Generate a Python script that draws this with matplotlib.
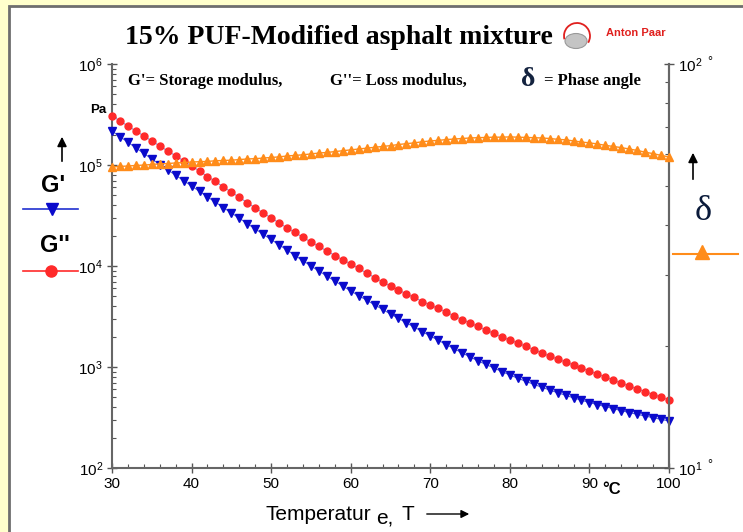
import matplotlib.pyplot as plt
import numpy as np
from matplotlib.patches import Rectangle, Ellipse, Arc, FancyArrowPatch
from matplotlib.lines import Line2D
from matplotlib.ticker import MultipleLocator, LogLocator, NullFormatter

plt.rcParams['font.family'] = ['Liberation Sans', 'DejaVu Sans']

# temperature, degC
temp = np.arange(30, 101)

# storage modulus G', Pa
g_storage = [2.17e5, 1.91e5, 1.68e5, 1.48e5, 1.30e5, 1.15e5, 1.01e5, 8.96e4, 7.92e4, 7.01e4,
             6.20e4, 5.48e4, 4.84e4, 4.28e4, 3.79e4, 3.35e4, 2.97e4, 2.63e4, 2.33e4, 2.06e4,
             1.83e4, 1.62e4, 1.44e4, 1.27e4, 1.13e4, 1.00e4, 8.92e3, 7.96e3, 7.10e3, 6.34e3,
             5.66e3, 5.09e3, 4.59e3, 4.13e3, 3.72e3, 3.35e3, 3.03e3, 2.74e3, 2.48e3, 2.24e3,
             2.03e3, 1.84e3, 1.67e3, 1.52e3, 1.38e3, 1.26e3, 1.15e3, 1.06e3, 977, 902,
             833, 775, 722, 674, 631, 592, 557, 525, 495, 469,
             445, 424, 405, 387, 370, 354, 340, 327, 315, 303, 292]

# loss modulus G'', Pa
g_loss = [3.06e5, 2.73e5, 2.43e5, 2.17e5, 1.94e5, 1.73e5, 1.54e5, 1.38e5, 1.23e5, 1.10e5,
          9.77e4, 8.72e4, 7.69e4, 6.87e4, 6.06e4, 5.40e4, 4.77e4, 4.25e4, 3.75e4, 3.35e4,
          2.99e4, 2.67e4, 2.38e4, 2.15e4, 1.92e4, 1.73e4, 1.56e4, 1.41e4, 1.27e4, 1.15e4,
          1.05e4, 9.45e3, 8.52e3, 7.69e3, 6.94e3, 6.34e3, 5.79e3, 5.28e3, 4.88e3, 4.45e3,
          4.11e3, 3.80e3, 3.50e3, 3.20e3, 2.95e3, 2.73e3, 2.52e3, 2.32e3, 2.15e3, 1.98e3,
          1.85e3, 1.73e3, 1.60e3, 1.49e3, 1.38e3, 1.28e3, 1.20e3, 1.12e3, 1.05e3, 977,
          913, 852, 796, 743, 694, 648, 606, 572, 534, 505, 471]

# phase angle delta, deg
phase = [55.6, 55.8, 55.9, 56.1, 56.2, 56.4, 56.6, 56.7, 56.9, 57.0,
         57.2, 57.3, 57.4, 57.6, 57.7, 57.8, 58.0, 58.2, 58.3, 58.5,
         58.7, 58.9, 59.2, 59.4, 59.6, 59.9, 60.2, 60.4, 60.7, 61.0,
         61.3, 61.6, 61.9, 62.2, 62.5, 62.8, 63.2, 63.5, 63.8, 64.2,
         64.5, 64.7, 65.0, 65.2, 65.4, 65.6, 65.7, 65.8, 65.9, 65.9,
         66.0, 65.9, 65.8, 65.7, 65.6, 65.4, 65.1, 64.9, 64.5, 64.1,
         63.8, 63.4, 62.9, 62.5, 62.1, 61.6, 61.1, 60.5, 60.0, 59.4, 58.9]

W, H = 743, 532


def P(x, y):
    # pixel position -> figure fraction
    return x / W, 1 - y / H


fig = plt.figure(figsize=(7.43, 5.32), dpi=100, facecolor='#FFFFCC')
fig.patches.append(Rectangle((9 / W, -0.1), 1.2, 1 - 6 / H + 0.1, transform=fig.transFigure,
                             facecolor='white', edgecolor='#6e6e6e', lw=2, zorder=-5))

ax = fig.add_axes([112 / W, 1 - 468 / H, (669 - 112) / W, (468 - 64) / H])
ax2 = ax.twinx()
ax.set_facecolor('none')
ax2.set_facecolor('none')

red = '#FF2A2A'
blue = '#0A0ACC'
orange = '#FF8C1A'

ax.plot(temp, g_loss, color='#7f8fe0', lw=0.8, marker='o', ms=5, mfc=red, mec=red, clip_on=False, zorder=3)
ax.plot(temp, g_storage, color='#5060d8', lw=0.8, marker='v', ms=5.5, mfc=blue, mec=blue, clip_on=False, zorder=3)
ax2.plot(temp, phase, color=orange, lw=1, marker='^', ms=5.5, mfc=orange, mec=orange, clip_on=False, zorder=3)

ax.set_xlim(30, 100)
ax.set_yscale('log')
ax.set_ylim(1e2, 1e6)
ax2.set_yscale('log')
ax2.set_ylim(10, 100)

ax.xaxis.set_major_locator(MultipleLocator(10))
ax.xaxis.set_minor_locator(MultipleLocator(2))
ax.yaxis.set_major_locator(LogLocator(base=10))
ax.yaxis.set_minor_locator(LogLocator(base=10, subs=np.arange(2, 10)))
ax.yaxis.set_minor_formatter(NullFormatter())
ax2.yaxis.set_minor_locator(LogLocator(base=10, subs=np.arange(2, 10)))
ax2.yaxis.set_minor_formatter(NullFormatter())
ax2.set_yticks([10, 100])
ax2.set_yticklabels([r'$\mathdefault{10^{1}}$', r'$\mathdefault{10^{2}}$'])

for a in (ax, ax2):
    for s in a.spines.values():
        s.set_color('#666666')
        s.set_linewidth(1.5)
    a.spines['top'].set_visible(False)
    a.tick_params(which='major', direction='inout', length=7, width=1, color='#555555',
                  labelsize=11, pad=3)
    a.tick_params(which='minor', direction='in', length=3, width=0.8, color='#555555')
ax2.spines['left'].set_visible(False)
ax2.spines['bottom'].set_visible(False)
ax.tick_params(top=False, right=False)

# degree marks next to the right-hand tick labels
fig.text(*P(707, 62), '°', fontsize=9, ha='left', va='center')
fig.text(*P(707, 465), '°', fontsize=9, ha='left', va='center')

# title and logo
fig.text(*P(339, 37), '15% PUF-Modified asphalt mixture', ha='center', va='center',
         fontsize=20, fontweight='bold', family='Liberation Serif')
fig.patches.append(Ellipse(P(576, 41), 22 / W, 15 / H, transform=fig.transFigure,
                           facecolor='#c4c4c4', edgecolor='#999999', lw=0.8))
fig.patches.append(Arc(P(577, 36), 26 / W, 26 / H, theta1=-40, theta2=200, transform=fig.transFigure,
                       color='#E0201E', lw=1.3))
fig.text(*P(606, 33), 'Anton Paar', color='#E0201E', fontsize=8, fontweight='bold',
         ha='left', va='center')

# inner description line
fig.text(*P(128, 81), "G'= Storage modulus,", fontsize=12, fontweight='bold',
         family='Liberation Serif', va='center')
fig.text(*P(330, 81), "G''= Loss modulus,", fontsize=12, fontweight='bold',
         family='Liberation Serif', va='center')
fig.text(*P(528, 80), 'δ', fontsize=20, fontweight='bold', color='#14233f',
         family='Liberation Serif', ha='center', va='center')
fig.text(*P(544, 81), '= Phase angle', fontsize=12, fontweight='bold',
         family='Liberation Serif', va='center')
fig.text(*P(106, 110), 'Pa', fontsize=9.5, fontweight='bold', ha='right', va='center')

# left legend
fig.add_artist(FancyArrowPatch(P(62, 164), P(62, 134), transform=fig.transFigure,
                               arrowstyle='-|>', mutation_scale=14, color='black', lw=1.2))
fig.text(*P(53, 186), "G'", fontsize=17, fontweight='bold', ha='center', va='center')
fig.add_artist(Line2D([23 / W, 78 / W], [1 - 209 / H] * 2, color='#2030d0', lw=1.2))
fig.add_artist(Line2D([52 / W], [1 - 209 / H], marker='v', ms=9, color=blue))
fig.text(*P(55, 246), "G''", fontsize=17, fontweight='bold', ha='center', va='center')
fig.add_artist(Line2D([23 / W, 78 / W], [1 - 271 / H] * 2, color=red, lw=1.2))
fig.add_artist(Line2D([51 / W], [1 - 271 / H], marker='o', ms=8, color=red))

# right legend
fig.add_artist(FancyArrowPatch(P(693, 182), P(693, 150), transform=fig.transFigure,
                               arrowstyle='-|>', mutation_scale=14, color='black', lw=1.2))
fig.text(*P(703, 212), 'δ', fontsize=26, color='#0a1a3a', ha='center', va='center',
         family='Liberation Serif')
fig.add_artist(Line2D([673 / W, 738 / W], [1 - 254 / H] * 2, color=orange, lw=1.5))
fig.add_artist(Line2D([702 / W], [1 - 252 / H], marker='^', ms=10, color=orange))

# x axis label
fig.text(*P(612, 490), '°C', fontsize=12, fontweight='bold', ha='center', va='center')
fig.text(*P(265, 514), 'Temperatur', fontsize=15, ha='left', va='center')
fig.text(*P(376, 518), 'e,', fontsize=15, ha='left', va='center')
fig.text(*P(402, 514), 'T', fontsize=15, ha='left', va='center')
fig.add_artist(FancyArrowPatch(P(424, 514), P(472, 514), transform=fig.transFigure,
                               arrowstyle='-|>', mutation_scale=12, color='black', lw=1))

plt.savefig('out.png', dpi=100, facecolor=fig.get_facecolor())
